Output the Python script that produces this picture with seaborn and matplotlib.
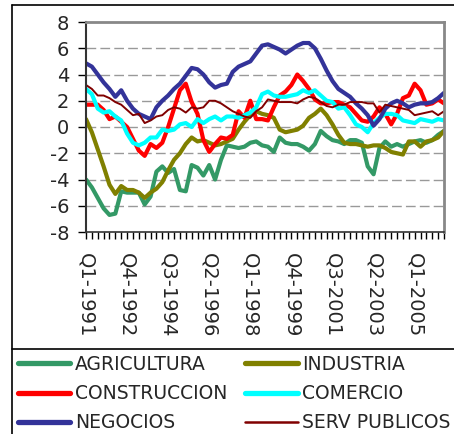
import matplotlib
matplotlib.use("Agg")
import matplotlib.pyplot as plt
from matplotlib.lines import Line2D
import seaborn as sns
import pandas as pd
import numpy as np

# ---- data -------------------------------------------------------------
quarters = [f"Q{q}-{y}" for y in range(1991, 2007) for q in range(1, 5)][:62]
tick_labels = ["Q1-1991", "Q4-1992", "Q3-1994", "Q2-1996", "Q1-1998",
               "Q4-1999", "Q3-2001", "Q2-2003", "Q1-2005"]

agricultura = [-4.0, -4.6, -5.4, -6.2, -6.7, -6.6, -4.9, -5.0, -5.0, -5.0,
               -5.9, -5.3, -3.4, -3.0, -3.5, -3.2, -4.8, -4.9, -2.9, -3.1,
               -3.7, -2.9, -4.0, -2.5, -1.4, -1.5, -1.6, -1.5, -1.2, -1.1,
               -1.4, -1.5, -1.9, -0.8, -1.2, -1.3, -1.3, -1.5, -1.8, -1.3,
               -0.3, -0.7, -1.0, -1.1, -1.3, -1.0, -1.0, -1.2, -3.0, -3.6,
               -1.6, -1.1, -1.5, -1.3, -1.5, -1.3, -1.1, -1.0, -1.2, -1.0,
               -0.6, -0.3]
industria = [0.6, -0.4, -1.7, -3.0, -4.4, -5.1, -4.5, -4.8, -4.8, -5.0,
             -5.4, -5.0, -4.7, -4.2, -3.3, -2.5, -2.0, -1.3, -0.8, -1.1,
             -1.0, -1.2, -1.4, -1.3, -1.1, -0.9, -0.2, 0.4, 0.9, 1.2,
             1.0, 0.9, 0.7, -0.2, -0.4, -0.3, -0.2, 0.1, 0.7, 1.0,
             1.4, 0.9, 0.2, -0.6, -1.2, -1.3, -1.3, -1.4, -1.5, -1.4,
             -1.4, -1.6, -1.9, -2.0, -2.1, -1.1, -1.1, -1.5, -1.1, -1.0,
             -0.8, -0.3]
construccion = [1.7, 1.7, 1.7, 1.3, 0.6, 0.8, 0.4, 0.0, -0.9, -1.8,
                -2.2, -1.3, -1.6, -1.2, 0.0, 1.4, 2.8, 3.3, 1.9, 1.0,
                -1.0, -1.9, -1.3, -0.8, -0.9, -0.6, 1.2, 0.7, 2.0, 0.6,
                0.6, 0.5, 1.5, 2.4, 2.7, 3.2, 4.0, 3.5, 2.9, 2.1,
                1.8, 1.8, 1.9, 1.9, 1.7, 1.5, 1.0, 0.5, 0.4, 0.8,
                1.5, 1.0, 0.2, 1.0, 2.2, 2.4, 3.3, 2.8, 1.7, 1.8,
                2.1, 1.8]
comercio = [2.9, 2.5, 1.4, 1.1, 1.2, 0.8, 0.5, -0.5, -1.2, -1.4,
            -1.2, -0.8, -0.8, -0.2, -0.3, -0.2, 0.2, 0.3, 0.0, 0.6,
            0.3, 0.6, 0.8, 0.5, 0.8, 0.8, 0.7, 0.9, 1.1, 1.5,
            2.5, 2.7, 2.4, 2.3, 2.3, 2.4, 2.5, 2.8, 2.6, 2.8,
            2.4, 2.0, 1.9, 1.4, 1.5, 0.9, 0.2, 0.0, -0.4, 0.3,
            0.7, 1.0, 1.0, 0.9, 0.5, 0.4, 0.3, 0.6, 0.5, 0.4,
            0.6, 0.5]
negocios = [4.85, 4.6, 4.0, 3.4, 2.9, 2.3, 2.8, 2.0, 1.4, 1.0,
            0.8, 0.6, 1.5, 2.0, 2.4, 2.9, 3.3, 3.9, 4.5, 4.4,
            4.0, 3.4, 3.0, 3.2, 3.3, 4.2, 4.6, 4.8, 5.0, 5.6,
            6.2, 6.3, 6.1, 5.9, 5.6, 5.9, 6.2, 6.4, 6.4, 6.0,
            5.2, 4.3, 3.5, 2.9, 2.6, 2.3, 1.8, 1.4, 0.9, 0.1,
            0.6, 1.4, 1.8, 2.0, 1.8, 1.5, 1.7, 1.8, 1.8, 1.9,
            2.2, 2.6]
serv_publicos = [3.2, 2.9, 2.4, 2.4, 2.2, 1.9, 1.7, 1.3, 0.9, 1.0,
                 0.3, 0.5, 0.8, 0.9, 1.3, 1.5, 1.4, 1.1, 1.5, 1.4,
                 1.5, 2.0, 2.0, 1.8, 1.5, 1.2, 1.0, 0.8, 0.7, 1.2,
                 1.5, 2.1, 2.0, 1.9, 1.9, 1.9, 1.8, 2.1, 2.3, 2.2,
                 1.9, 1.6, 1.5, 1.7, 1.7, 1.9, 1.9, 1.9, 1.8, 1.8,
                 1.1, 1.7, 1.6, 1.5, 1.4, 1.3, 0.9, 1.0, 1.1, 1.2,
                 0.9, 1.2]

series_names = ["AGRICULTURA", "INDUSTRIA", "CONSTRUCCION", "COMERCIO",
                "NEGOCIOS", "SERV PUBLICOS"]
series_values = [agricultura, industria, construccion, comercio, negocios,
                 serv_publicos]
colors = ["#339966", "#808000", "#FF0000", "#00FFFF", "#333399", "#800000"]
widths = [3.0, 3.0, 3.0, 3.0, 3.0, 1.4]

# ---- figure -----------------------------------------------------------
sns.set_theme(style="white")
plt.rcParams['font.family'] = ['DejaVu Sans']
DPI = 100
fig = plt.figure(figsize=(4.54, 4.34), dpi=DPI)
ax = fig.add_axes([86/454, 1-232/434, (444-86)/454, (232-22)/434])

x = np.arange(len(quarters))
for name, vals, c, lw in zip(series_names, series_values, colors, widths):
    df = pd.DataFrame({"q": x, "v": vals})
    sns.lineplot(data=df, x="q", y="v", ax=ax, color=c, linewidth=lw,
                 label=name, legend=False, solid_joinstyle="round",
                 solid_capstyle="round")

ax.set_xlim(0, len(quarters) - 1)
ax.set_ylim(-8, 8)
ax.set_xlabel("")
ax.set_ylabel("")
ax.set_yticks(np.arange(-8, 9, 2))
ax.set_yticklabels([str(v) for v in range(-8, 9, 2)], fontsize=14)
tick_pos = [quarters.index(t) for t in tick_labels]
ax.set_xticks(tick_pos)
ax.set_xticklabels(tick_labels, rotation=-90, fontsize=14, va="top",
                   ha="center")
ax.set_xticks(x, minor=True)
ax.tick_params(axis="x", which="both", direction="out", length=5, width=1,
               color="black", bottom=True, pad=10)
ax.tick_params(axis="y", which="major", direction="out", length=6,
               width=1, color="black", left=True, pad=6)

for yv in range(-6, 8, 2):
    ax.axhline(yv, color="#999999", linewidth=1.0, dashes=(7, 3), zorder=0)

ax.spines["top"].set_color("#888888")
ax.spines["top"].set_linewidth(2)
ax.spines["right"].set_color("#888888")
ax.spines["right"].set_linewidth(2)
ax.spines["left"].set_color("#333333")
ax.spines["left"].set_linewidth(1.5)
ax.spines["bottom"].set_color("#333333")
ax.spines["bottom"].set_linewidth(1.2)

# legend (row-wise order with 2 columns)
handles = {n: Line2D([], [], color=c, linewidth=(3.8 if lw > 2 else 1.8))
           for n, c, lw in zip(series_names, colors, widths)}
order = ["AGRICULTURA", "CONSTRUCCION", "NEGOCIOS",
         "INDUSTRIA", "COMERCIO", "SERV PUBLICOS"]
fig.legend([handles[n] for n in order], order, ncol=2, loc="upper left",
           bbox_to_anchor=(14/454, 1-351/434), frameon=False,
           fontsize=13.5, handlelength=2.8, handletextpad=0.25,
           columnspacing=0.95, labelspacing=0.55, borderaxespad=0,
           borderpad=0.2)

# chart frame lines
fx = 12/454
fig.add_artist(Line2D([fx, 1], [1-5/434, 1-5/434], color="black", lw=1.2))
fig.add_artist(Line2D([fx, fx], [0, 1-5/434], color="black", lw=1.2))
fig.add_artist(Line2D([fx, 1], [1-349/434, 1-349/434], color="black", lw=1.2))

fig.savefig("out.png", dpi=DPI, facecolor="white")
